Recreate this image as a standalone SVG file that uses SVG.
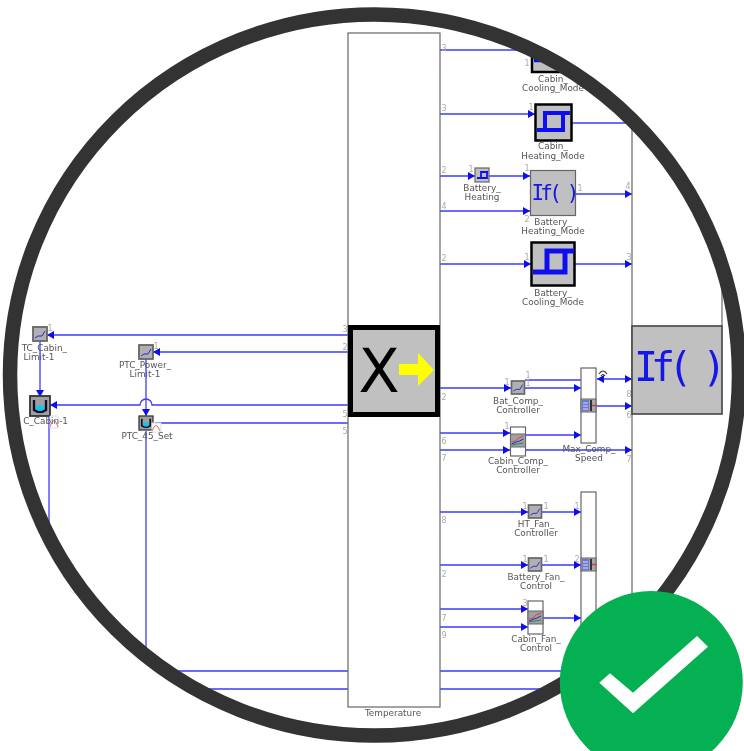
<svg xmlns="http://www.w3.org/2000/svg" width="744" height="751" viewBox="0 0 744 751">
<style>
.w{fill:none;stroke:#3a3aff;stroke-width:1.3}
.a{marker-end:url(#arr)}
.t{font-family:"DejaVu Sans",sans-serif;font-size:8.9px;fill:#555;text-anchor:middle}
.n{font-family:"DejaVu Sans",sans-serif;font-size:8px;fill:#aaa;text-anchor:middle}
.w1{fill:#fff;stroke:#666;stroke-width:1.2}
.g{fill:#c0c0c0;stroke:#666;stroke-width:1.2}
.k{fill:#c0c0c0;stroke:#000}
.s{fill:none;stroke:#1010f0}
.if{font-family:"DejaVu Sans Mono",monospace;fill:#1414e6}
</style>
<defs>
<marker id="arr" markerUnits="userSpaceOnUse" markerWidth="8" markerHeight="8" refX="7" refY="4" orient="auto"><path d="M0 0L7 4L0 8Z" fill="#1010f0"/></marker>
<marker id="arrb" markerUnits="userSpaceOnUse" markerWidth="8" markerHeight="8" refX="0" refY="4" orient="auto"><path d="M7 0L0 4L7 8Z" fill="#1010f0"/></marker>
<clipPath id="disc"><ellipse cx="374.500" cy="375" rx="360" ry="356"/></clipPath>
<filter id="soft" x="-5%" y="-5%" width="110%" height="110%"><feGaussianBlur stdDeviation="0.45"/></filter>
<symbol id="map" viewBox="0 0 14 14" overflow="visible"><rect x="0" y="0" width="14" height="14" fill="#b0b0b0" stroke="#666" stroke-width="1.800"/><path d="M2 11L5 9L9 9L12 4" fill="none" stroke="#2424e0" stroke-width="1"/></symbol>
<symbol id="multi" viewBox="0 0 15 13" overflow="visible"><rect x="0" y="0" width="15" height="13" fill="#a0a0a0" stroke="#666"/><path d="M1 8L5 7L8 4L13 2" fill="none" stroke="#e04040"/><path d="M1 10L6 8L9 7L13 5" fill="none" stroke="#2424e0"/><path d="M1 11L7 10L13 9" fill="none" stroke="#209050"/></symbol>
<symbol id="mux" viewBox="0 0 15 13" overflow="visible"><rect x="0" y="0" width="15" height="13" fill="#a8a8a8" stroke="#666"/><rect x="1" y="1" width="7" height="11" fill="#6a78d8"/><path d="M2 4h5M2 7h5M2 10h5" stroke="#dde" stroke-width="1"/><rect x="9" y="1" width="2" height="11" fill="#333"/><path d="M11 6.500h4" stroke="#e03030" stroke-width="1.400"/></symbol>
<symbol id="tank" viewBox="0 0 20 20" overflow="visible"><rect x="0" y="0" width="20" height="20" fill="#a0a0a0" stroke="#333" stroke-width="1.800"/><path d="M4 4V14Q10 18 16 14V4" fill="none" stroke="#113" stroke-width="2.400"/><ellipse cx="10" cy="12" rx="4" ry="3" fill="#10c8e8"/></symbol>
</defs>

<g clip-path="url(#disc)">
<g filter="url(#soft)">
<g id="connectors">
<path class="w a" d="M440 50H531"/>
<path class="w a" d="M440 114H535"/>
<path class="w" d="M572 123H632"/>
<path class="w a" d="M440 176H475"/>
<path class="w a" d="M489 176H530"/>
<path class="w a" d="M440 211H530"/>
<path class="w a" d="M576 194H632"/>
<path class="w a" d="M440 264H531"/>
<path class="w a" d="M575 264H632"/>
<path class="w a" d="M440 388H511"/>
<path class="w a" d="M525 388H581"/>
<path class="w" d="M525 380H581"/>
<path class="w a" d="M597 379H632" marker-start="url(#arrb)"/>
<path class="w a" d="M596 406H632"/>
<path class="w a" d="M440 433H510"/>
<path class="w a" d="M440 450H510"/>
<path class="w a" d="M525 435H581"/>
<path class="w a" d="M525 450H632"/>
<path class="w a" d="M440 512H528"/>
<path class="w a" d="M542 512H581"/>
<path class="w a" d="M440 565H528"/>
<path class="w a" d="M542 565H581"/>
<path class="w a" d="M440 609H528"/>
<path class="w a" d="M440 627H528"/>
<path class="w a" d="M543 618H581"/>
<path class="w" d="M146 671H348M440 671H590"/>
<path class="w" d="M170 689H348M440 689H590"/>
<path class="w a" d="M348 335H47"/>
<path class="w a" d="M40 341V397"/>
<path class="w a" d="M348 352H153"/>
<path class="w a" d="M146 359V416"/>
<path class="w a" d="M348 405H152A6 6 0 0 0 140 405H50"/>
<path class="w" d="M348 423H155"/>
<path class="w" d="M49 416V540"/>
<path class="w" d="M146 431V671"/>
</g>

<g id="node-temperature"><rect class="w1" x="348" y="33" width="92" height="674"/><text class="t" x="393" y="716">Temperature</text>
<text class="n" x="345" y="332">3</text><text class="n" x="345" y="350">2</text><text class="n" x="345" y="417">5</text><text class="n" x="345" y="434">5</text>
<text class="n" x="444" y="51">3</text><text class="n" x="444" y="111">3</text><text class="n" x="444" y="173">2</text><text class="n" x="444" y="209">4</text><text class="n" x="444" y="261">2</text><text class="n" x="444" y="400">2</text><text class="n" x="444" y="444">6</text><text class="n" x="444" y="461">7</text><text class="n" x="444" y="523">8</text><text class="n" x="444" y="577">2</text><text class="n" x="444" y="621">7</text><text class="n" x="444" y="638">9</text></g>

<g id="node-switch"><rect x="350.500" y="327.500" width="87" height="87" class="k" stroke-width="5"/><text x="379" y="392" font-family="'DejaVu Sans',sans-serif" font-size="60" text-anchor="middle" fill="#000">X</text><path d="M399 364H418V353L434 370L418 386V375H399Z" fill="#ffff00"/></g>

<line x1="632" y1="20" x2="632" y2="640" stroke="#666" stroke-width="1.200"/>
<line x1="722" y1="290" x2="722" y2="326" stroke="#666" stroke-width="1.200"/>
<g id="node-if-main"><rect x="632" y="326" width="90" height="88" fill="#c0c0c0" stroke="#444" stroke-width="1.600"/><text class="if" x="634" y="381" font-size="40" letter-spacing="-7">If( )</text>
<text class="n" x="629" y="397">8</text><text class="n" x="629" y="418">6</text><text class="n" x="629" y="462">7</text></g>

<g id="node-cabin-cooling"><rect class="k" x="532" y="30" width="43" height="42" stroke-width="2.500"/><path class="s" stroke-width="4.500" d="M534 60H560V40M545 60V40H576"/><text class="n" x="527" y="66">1</text><text class="t" x="553" y="82">Cabin_</text><text class="t" x="553" y="91">Cooling_Mode</text></g>

<g id="node-cabin-heating"><rect class="k" x="535.500" y="104.500" width="36" height="36" stroke-width="2.500"/><path class="s" stroke-width="4" d="M537 130H563V113M545 130V113H570"/><text class="n" x="531" y="110">1</text><text class="t" x="553" y="149">Cabin_</text><text class="t" x="553" y="159">Heating_Mode</text></g>

<g id="node-battery-heating"><rect class="g" x="475" y="168" width="14" height="14"/><path class="s" stroke-width="1.800" d="M477 178H487V172M481 178V172H488"/><text class="n" x="471" y="172">1</text><text class="t" x="482" y="191">Battery_</text><text class="t" x="482" y="200">Heating</text></g>

<g id="node-battery-if"><rect class="g" x="530.500" y="170.500" width="45" height="45"/><text class="if" x="531.500" y="200" font-size="21" letter-spacing="-3.800">If( )</text><text class="n" x="527" y="171">1</text><text class="n" x="527" y="222">2</text><text class="n" x="580" y="191">1</text><text class="n" x="628" y="189">4</text><text class="t" x="553" y="225">Battery_</text><text class="t" x="553" y="234">Heating_Mode</text></g>

<g id="node-battery-cooling"><rect class="k" x="531.500" y="242.500" width="43" height="43" stroke-width="2.500"/><path class="s" stroke-width="5" d="M533 272H565V251M547 272V251H574"/><text class="n" x="527" y="260">1</text><text class="n" x="629" y="260">3</text><text class="t" x="553" y="296">Battery_</text><text class="t" x="553" y="305">Cooling_Mode</text></g>

<g id="node-bat-comp"><use href="#map" x="511" y="381" width="14" height="13"/><text class="n" x="507" y="385">1</text><text class="n" x="528" y="378">1</text><text class="n" x="528" y="386">1</text><text class="t" x="518" y="404">Bat_Comp_</text><text class="t" x="518" y="413">Controller</text></g>

<g id="node-max-comp"><rect class="w1" x="581" y="368" width="15" height="75"/><use href="#mux" x="581" y="399" width="15" height="13"/><path d="M599 374Q603 368 607 374M601 376Q603 373 605 376" fill="none" stroke="#333" stroke-width="1.200"/><text class="t" x="589" y="452">Max_Comp_</text><text class="t" x="589" y="461">Speed</text></g>

<g id="node-cabin-comp"><rect class="w1" x="510.500" y="427" width="15" height="29"/><use href="#multi" x="510.500" y="434" width="15" height="13"/><text class="n" x="507" y="429">1</text><text class="t" x="518" y="464">Cabin_Comp_</text><text class="t" x="518" y="473">Controller</text></g>

<g id="node-ht-fan"><use href="#map" x="528" y="505" width="14" height="13"/><text class="n" x="525" y="509">1</text><text class="n" x="546" y="509">1</text><text class="t" x="536" y="527">HT_Fan_</text><text class="t" x="536" y="536">Controller</text></g>

<g id="node-battery-fan"><use href="#map" x="528" y="558" width="14" height="13"/><text class="n" x="525" y="562">1</text><text class="n" x="546" y="562">1</text><text class="t" x="536" y="580">Battery_Fan_</text><text class="t" x="536" y="589">Control</text></g>

<g id="node-fan-mux"><rect class="w1" x="581" y="492" width="15" height="150"/><use href="#mux" x="581" y="558" width="15" height="13"/><text class="n" x="577" y="509">1</text><text class="n" x="577" y="562">2</text></g>

<g id="node-cabin-fan"><rect class="w1" x="528" y="601" width="15" height="33"/><use href="#multi" x="528" y="611" width="15" height="13"/><text class="n" x="525" y="606">3</text><text class="t" x="536" y="642">Cabin_Fan_</text><text class="t" x="536" y="651">Control</text></g>

<g id="node-tc-limit"><use href="#map" x="33" y="327" width="14" height="14"/><text class="n" x="50" y="331">1</text><text class="t" x="67" y="351" style="text-anchor:end">TC_Cabin_</text><text class="t" x="39" y="360">Limit-1</text></g>

<g id="node-tc-cabin"><use href="#tank" x="30" y="396" width="20" height="20"/><path d="M50 416H58V428H50Z" fill="#fff" stroke="#ddd"/><path d="M50 427Q54 414 58 427" fill="none" stroke="#e07070"/><text class="t" x="68" y="424" style="text-anchor:end">C_Cabin-1</text></g>

<g id="node-ptc-power"><use href="#map" x="139" y="345" width="14" height="14"/><text class="n" x="156" y="349">1</text><text class="t" x="145" y="368">PTC_Power_</text><text class="t" x="145" y="377">Limit-1</text></g>

<g id="node-ptc-45"><use href="#tank" x="139" y="416" width="14" height="14"/><path d="M152 423H161V432H152Z" fill="#fff" stroke="#ddd"/><path d="M152 431Q156 420 160 431" fill="none" stroke="#e07070"/><text class="t" x="147" y="439">PTC_45_Set</text></g>
</g>
</g>

<ellipse id="ring" cx="374.500" cy="375" rx="364.500" ry="360.500" fill="none" stroke="#333" stroke-width="14.500"/>
<g id="badge"><circle cx="651.300" cy="682.500" r="91.500" fill="#05b052"/><path d="M599.300 682.700L610 673.300L633 692.700L697 636L708 646.700L633 713.300Z" fill="#fff"/></g>
</svg>
